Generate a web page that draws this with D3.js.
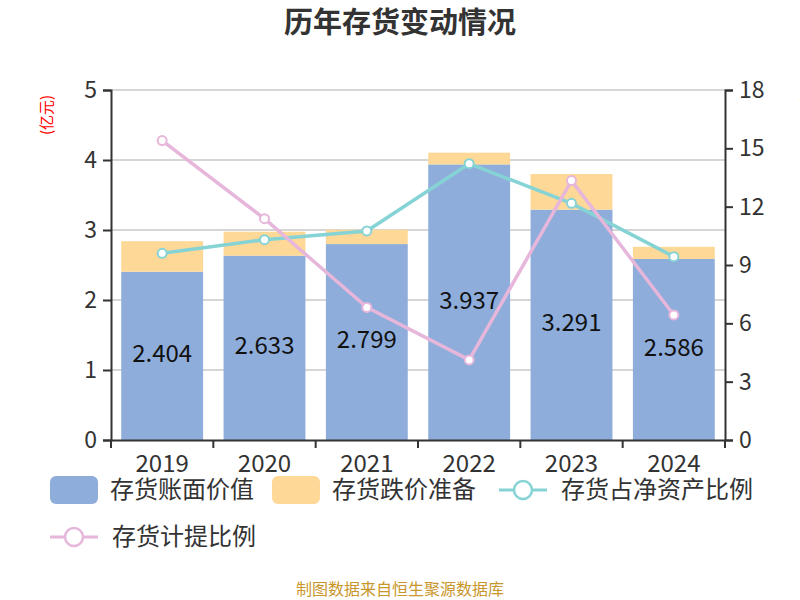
<!DOCTYPE html>
<html>
<head>
<meta charset="utf-8">
<script src="https://cdn.jsdelivr.net/npm/d3@7/dist/d3.min.js"></script>
<style>
  body { margin: 0; background: #fff; }
  text { font-family: "Noto Sans CJK SC", "Noto Sans", sans-serif; }
</style>
</head>
<body>
<div id="chart"></div>
<script>
const years = ['2019', '2020', '2021', '2022', '2023', '2024'];
const bookValue = [2.404, 2.633, 2.799, 3.937, 3.291, 2.586];
const impairment = [0.436, 0.343, 0.205, 0.168, 0.509, 0.174];
const netAssetRatio = [9.60, 10.30, 10.75, 14.21, 12.17, 9.43];
const provisionRatio = [15.40, 11.38, 6.82, 4.12, 13.34, 6.43];
const leftTicks = [0, 1, 2, 3, 4, 5];
const rightTicks = [0, 3, 6, 9, 12, 15, 18];

const width = 800, height = 600;
const margin = { top: 90, right: 75, bottom: 160, left: 111 };
const colors = { book: '#8eaddb', imp: '#fed897', net: '#86d3d6', prov: '#e6b6db' };

const svg = d3.select('#chart').append('svg')
  .attr('width', width)
  .attr('height', height);

const x = d3.scaleBand()
  .domain(years)
  .range([margin.left, width - margin.right])
  .paddingInner(0.2)
  .paddingOuter(0.1);

const y = d3.scaleLinear().domain([0, 5]).range([height - margin.bottom, margin.top]);
const y2 = d3.scaleLinear().domain([0, 18]).range([height - margin.bottom, margin.top]);

// title
svg.append('text')
  .attr('x', width / 2)
  .attr('y', 33)
  .attr('text-anchor', 'middle')
  .attr('font-size', 29)
  .attr('font-weight', 'bold')
  .attr('fill', '#333')
  .text('历年存货变动情况');

// grid
svg.append('g')
  .selectAll('line')
  .data(leftTicks.slice(1))
  .enter().append('line')
  .attr('x1', margin.left)
  .attr('x2', width - margin.right)
  .attr('y1', d => y(d))
  .attr('y2', d => y(d))
  .attr('stroke', '#c8c8c8')
  .attr('stroke-width', 1.5);

// stacked bars
const bars = svg.append('g');
bars.selectAll('rect.book')
  .data(years)
  .enter().append('rect')
  .attr('class', 'book')
  .attr('x', d => x(d))
  .attr('width', x.bandwidth())
  .attr('y', (d, i) => y(bookValue[i]))
  .attr('height', (d, i) => y(0) - y(bookValue[i]))
  .attr('fill', colors.book);

bars.selectAll('rect.imp')
  .data(years)
  .enter().append('rect')
  .attr('class', 'imp')
  .attr('x', d => x(d))
  .attr('width', x.bandwidth())
  .attr('y', (d, i) => y(bookValue[i] + impairment[i]))
  .attr('height', (d, i) => y(bookValue[i]) - y(bookValue[i] + impairment[i]))
  .attr('fill', colors.imp);

// axes
const fontAxis = 23;
const xAxis = svg.append('g')
  .attr('transform', `translate(0,${y(0)})`)
  .call(d3.axisBottom(x).tickSize(0).tickPadding(15));
xAxis.select('.domain').attr('stroke', '#333').attr('stroke-width', 2);
xAxis.selectAll('text').attr('font-size', 24).attr('fill', '#333');

// ticks on band boundaries
const half = x.step() * x.paddingInner() / 2;
const bounds = years.map(d => x(d) - half).concat([x(years[years.length - 1]) + x.bandwidth() + half]);
svg.append('g')
  .selectAll('line')
  .data(bounds)
  .enter().append('line')
  .attr('x1', d => d)
  .attr('x2', d => d)
  .attr('y1', y(0))
  .attr('y2', y(0) + 8)
  .attr('stroke', '#333')
  .attr('stroke-width', 2);

const yAxisL = svg.append('g')
  .attr('transform', `translate(${margin.left},0)`)
  .call(d3.axisLeft(y).tickValues(leftTicks).tickFormat(d3.format('d')).tickSize(8).tickPadding(6));
yAxisL.select('.domain').attr('stroke', '#333').attr('stroke-width', 2);
yAxisL.selectAll('line').attr('stroke', '#333').attr('stroke-width', 2);
yAxisL.selectAll('text').attr('font-size', fontAxis).attr('fill', '#333');

const yAxisR = svg.append('g')
  .attr('transform', `translate(${width - margin.right},0)`)
  .call(d3.axisRight(y2).tickValues(rightTicks).tickFormat(d3.format('d')).tickSize(8).tickPadding(6));
yAxisR.select('.domain').attr('stroke', '#333').attr('stroke-width', 2);
yAxisR.selectAll('line').attr('stroke', '#333').attr('stroke-width', 2);
yAxisR.selectAll('text').attr('font-size', fontAxis).attr('fill', '#333');

// axis names
svg.append('text')
  .attr('transform', `translate(52,115) rotate(-90)`)
  .attr('text-anchor', 'middle')
  .attr('font-size', 15)
  .attr('fill', 'red')
  .text('(亿元)');
svg.append('text')
  .attr('transform', `translate(803,108) rotate(90)`)
  .attr('text-anchor', 'middle')
  .attr('font-size', 15)
  .attr('fill', 'red')
  .text('(%)');

// data labels
svg.append('g')
  .selectAll('text')
  .data(years)
  .enter().append('text')
  .attr('x', d => x(d) + x.bandwidth() / 2)
  .attr('y', (d, i) => (y(0) + y(bookValue[i])) / 2 - 2)
  .attr('dy', '0.35em')
  .attr('text-anchor', 'middle')
  .attr('font-size', 24)
  .attr('fill', '#111')
  .text((d, i) => bookValue[i].toFixed(3));

// lines
const cx = d => x(d) + x.bandwidth() / 2;
const drawLine = (vals, color) => {
  const line = d3.line().x((d, i) => cx(years[i])).y(d => y2(d));
  svg.append('path')
    .datum(vals)
    .attr('d', line)
    .attr('fill', 'none')
    .attr('stroke', color)
    .attr('stroke-width', 3.5);
  svg.append('g')
    .selectAll('circle')
    .data(vals)
    .enter().append('circle')
    .attr('cx', (d, i) => cx(years[i]))
    .attr('cy', d => y2(d))
    .attr('r', 4.5)
    .attr('fill', '#fff')
    .attr('stroke', color)
    .attr('stroke-width', 2);
};
drawLine(netAssetRatio, colors.net);
drawLine(provisionRatio, colors.prov);

// legend
const legend = svg.append('g');
const legendItems = [
  { name: '存货账面价值', type: 'rect', color: colors.book, x: 50, y: 490 },
  { name: '存货跌价准备', type: 'rect', color: colors.imp, x: 272, y: 490 },
  { name: '存货占净资产比例', type: 'line', color: colors.net, x: 499, y: 490 },
  { name: '存货计提比例', type: 'line', color: colors.prov, x: 50, y: 537 }
];
legendItems.forEach(item => {
  const g = legend.append('g').attr('transform', `translate(${item.x},${item.y})`);
  if (item.type === 'rect') {
    g.append('rect')
      .attr('x', 0).attr('y', -14)
      .attr('width', 48).attr('height', 28)
      .attr('rx', 6)
      .attr('fill', item.color);
  } else {
    g.append('line')
      .attr('x1', 0).attr('x2', 48)
      .attr('stroke', item.color).attr('stroke-width', 3);
    g.append('circle')
      .attr('cx', 24).attr('r', 9)
      .attr('fill', '#fff')
      .attr('stroke', item.color).attr('stroke-width', 2.5);
  }
  g.append('text')
    .attr('x', item.type === 'rect' ? 60 : 62)
    .attr('dy', '0.35em')
    .attr('font-size', 24)
    .attr('fill', '#333')
    .text(item.name);
});

// footer
svg.append('text')
  .attr('x', width / 2)
  .attr('y', 595)
  .attr('text-anchor', 'middle')
  .attr('font-size', 16)
  .attr('fill', '#c8962a')
  .text('制图数据来自恒生聚源数据库');
</script>
</body>
</html>
